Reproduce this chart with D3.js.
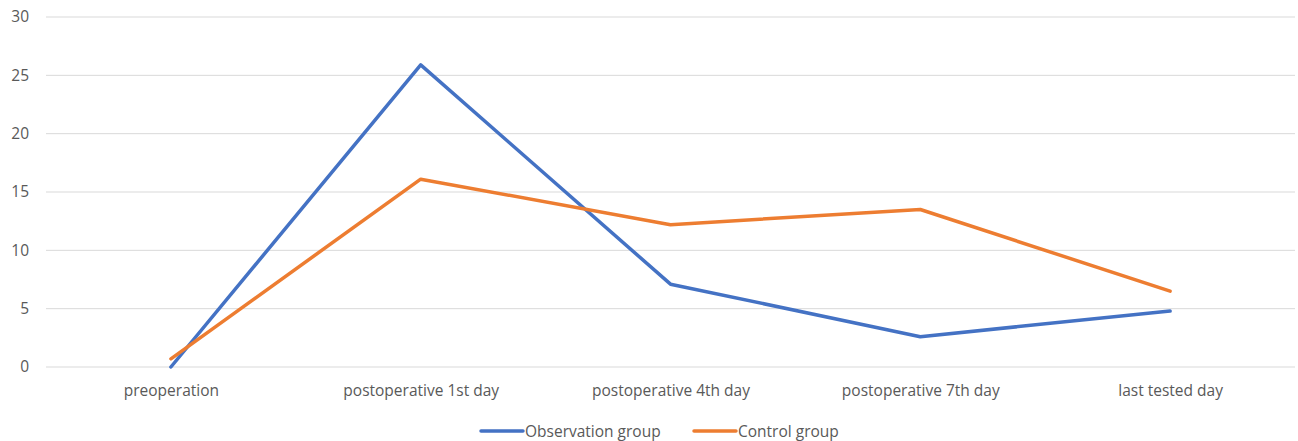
<!DOCTYPE html>
<html>
<head>
<meta charset="utf-8">
<script src="https://cdn.jsdelivr.net/npm/d3@7"></script>
<style>
  html, body { margin: 0; padding: 0; background: #fff; overflow: hidden; }
  svg { display: block; }
  svg text { font-family: "Open Sans", "Noto Sans", sans-serif; fill: #595959; }
</style>
</head>
<body>
<div id="chart"></div>
<script>
// Chart data
const categories = ['preoperation', 'postoperative 1st day', 'postoperative 4th day', 'postoperative 7th day', 'last tested day'];
const observationValues = [0, 25.9, 7.1, 2.6, 4.8];
const controlValues = [0.7, 16.1, 12.2, 13.5, 6.5];
const yTicks = [0, 5, 10, 15, 20, 25, 30];
const seriesNames = ['Observation group', 'Control group'];

const width = 1298;
const height = 441;
const margin = { top: 17, right: 3, bottom: 74, left: 46 };

const svg = d3.select('#chart')
    .append('svg')
    .attr('width', width)
    .attr('height', height);

const innerWidth = width - margin.left - margin.right;
const innerHeight = height - margin.top - margin.bottom;

const chart = svg.append('g')
    .attr('transform', `translate(${margin.left},${margin.top})`);

const xScale = d3.scalePoint()
    .domain(categories)
    .range([0, innerWidth])
    .padding(0.5);

const yScale = d3.scaleLinear()
    .domain([0, 30])
    .range([innerHeight, 0]);

// Gridlines
chart.append('g')
    .selectAll('line')
    .data(yTicks)
    .enter()
    .append('line')
    .attr('x1', 0)
    .attr('x2', innerWidth)
    .attr('y1', d => yScale(d))
    .attr('y2', d => yScale(d))
    .attr('stroke', '#d9d9d9')
    .attr('stroke-width', 1);

// Y axis labels
const yAxis = chart.append('g')
    .call(d3.axisLeft(yScale).tickValues(yTicks).tickSize(0).tickPadding(17));
yAxis.select('.domain').remove();
yAxis.selectAll('text')
    .style('font-size', '15.5px')
    .style('fill', '#595959');

// X axis labels
const xAxis = chart.append('g')
    .attr('transform', `translate(0,${innerHeight})`)
    .call(d3.axisBottom(xScale).tickSize(0).tickPadding(18));
xAxis.select('.domain').remove();
xAxis.selectAll('text')
    .style('font-size', '15.5px')
    .style('fill', '#595959');

// Lines
const colors = ['#4472C4', '#ED7D31'];
const series = [observationValues, controlValues];
const line = d3.line()
    .x((d, i) => xScale(categories[i]))
    .y(d => yScale(d));

series.forEach((values, k) => {
    chart.append('path')
        .datum(values)
        .attr('fill', 'none')
        .attr('stroke', colors[k])
        .attr('stroke-width', 3.5)
        .attr('stroke-linejoin', 'round')
        .attr('stroke-linecap', 'round')
        .attr('d', line);
});

// Legend
const legend = svg.append('g')
    .attr('transform', `translate(480,431)`);
const legendX = [0, 213];
seriesNames.forEach((name, k) => {
    const g = legend.append('g').attr('transform', `translate(${legendX[k]},0)`);
    g.append('line')
        .attr('x1', 1).attr('x2', 43)
        .attr('y1', 0).attr('y2', 0)
        .attr('stroke', colors[k])
        .attr('stroke-width', 3.5)
        .attr('stroke-linecap', 'round');
    g.append('text')
        .attr('x', 45)
        .attr('y', 5.5)
        .style('font-size', '15.5px')
        .text(name);
});
</script>
</body>
</html>
